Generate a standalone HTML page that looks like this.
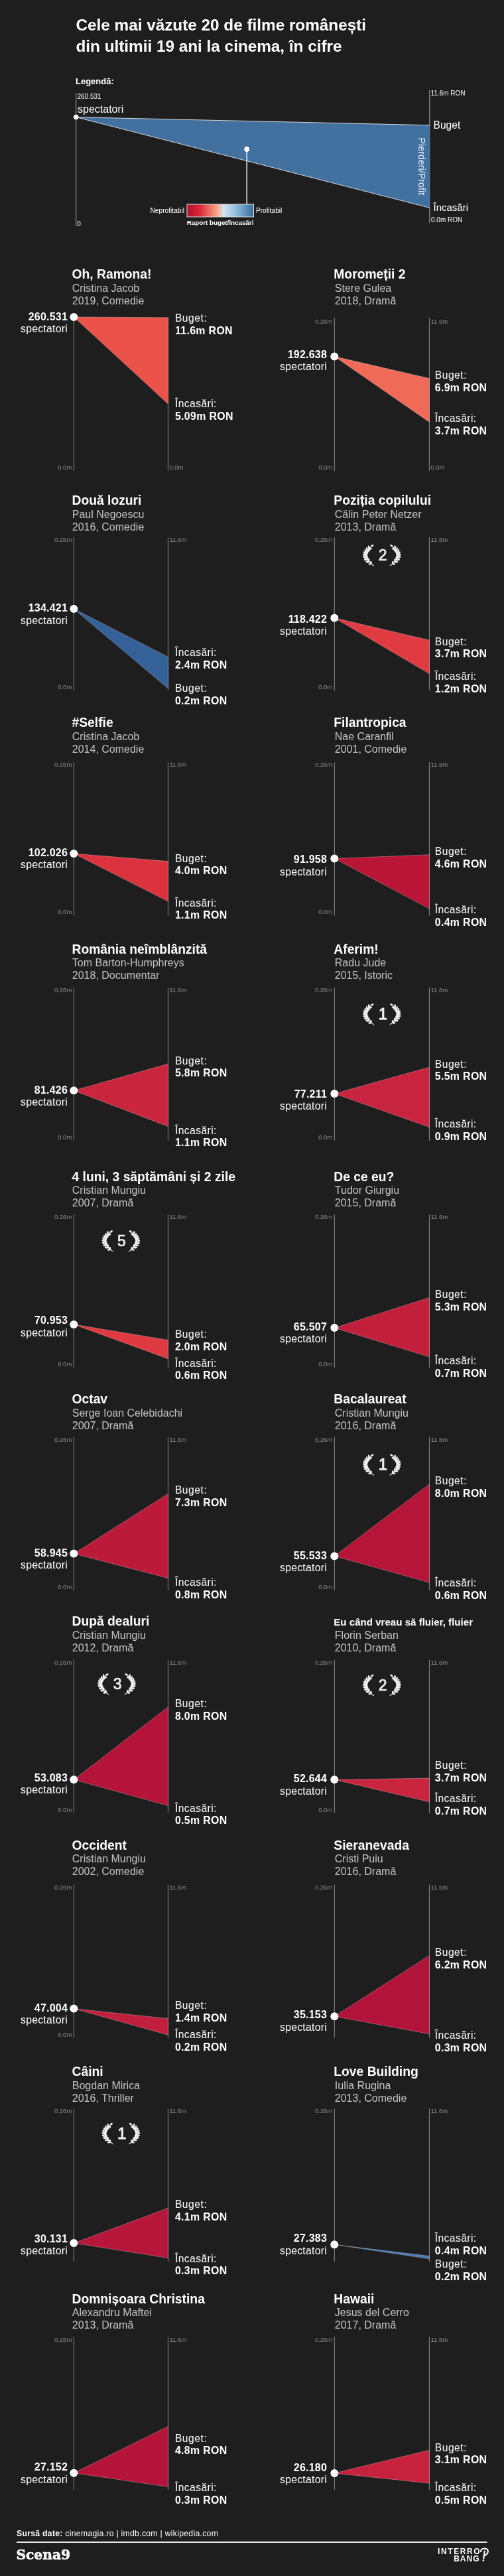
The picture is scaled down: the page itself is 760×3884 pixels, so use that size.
<!DOCTYPE html>
<html><head><meta charset="utf-8"><title>Cele mai văzute 20 de filme românești</title>
<style>
html,body{margin:0;padding:0;background:#1e1e1e;}
body{width:760px;height:3884px;overflow:hidden;}
svg{display:block;font-family:'Liberation Sans', Arial, sans-serif;will-change:transform;}
</style></head><body>
<svg width="760" height="3884" viewBox="0 0 760 3884">
<rect width="760" height="3884" fill="#1e1e1e"/>
<text x="114.5" y="46" font-size="24.3" font-weight="bold" fill="#fff">Cele mai văzute 20 de filme românești</text>
<text x="114.5" y="78.2" font-size="24.3" font-weight="bold" fill="#fff">din ultimii 19 ani la cinema, în cifre</text>
<text x="114" y="127.2" font-size="13" font-weight="bold" fill="#fff">Legendă:</text>
<line x1="114.7" y1="141" x2="114.7" y2="341" stroke="#aaa" stroke-width="1"/>
<line x1="647.8" y1="136" x2="647.8" y2="336" stroke="#aaa" stroke-width="1"/>
<text x="116.5" y="149" font-size="10" fill="#fff">260.531</text>
<text x="117" y="169.5" font-size="16" fill="#fff">spectatori</text>
<text x="116.3" y="340.9" font-size="10" fill="#fff">0</text>
<text x="649.5" y="143.8" font-size="10" fill="#fff">11.6m RON</text>
<text x="650" y="335" font-size="10" fill="#fff">0.0m RON</text>
<text x="653.5" y="193.8" font-size="15.6" fill="#fff">Buget</text>
<text x="653.5" y="318" font-size="15" fill="#fff">Încasări</text>
<polygon points="114.7,176.6 647.8,188.8 647.8,313.3" fill="#42709f"/>
<line x1="114.7" y1="176.6" x2="647.8" y2="188.8" stroke="#e8e8e8" stroke-width="0.9"/>
<line x1="114.7" y1="176.6" x2="647.8" y2="313.3" stroke="#e8e8e8" stroke-width="0.9"/>
<circle cx="114.7" cy="176.6" r="3.8" fill="#fff"/>
<text transform="translate(631.3,207.5) rotate(90)" font-size="14.3" fill="#e6ecf4">Pierderi/Profit</text>
<line x1="372.2" y1="225" x2="372.2" y2="308" stroke="#fff" stroke-width="1.4"/>
<circle cx="372.2" cy="225" r="3.9" fill="#fff"/>
<defs><linearGradient id="cb" x1="0" x2="1" y1="0" y2="0">
<stop offset="0" stop-color="#b0112e"/>
<stop offset="0.2" stop-color="#dc2a3a"/>
<stop offset="0.45" stop-color="#f5a586"/>
<stop offset="0.55" stop-color="#d6e6f2"/>
<stop offset="0.75" stop-color="#8ab8da"/>
<stop offset="1" stop-color="#3a6a9f"/>
</linearGradient></defs>
<rect x="282" y="308" width="100.5" height="19" fill="url(#cb)" stroke="#ddd" stroke-width="1"/>
<text x="278" y="321.4" font-size="10.2" text-anchor="end" fill="#fff">Neprofitabil</text>
<text x="386" y="321.4" font-size="10.1" fill="#fff">Profitabil</text>
<text x="332" y="339" font-size="9.8" font-weight="bold" text-anchor="middle" fill="#fff">Raport buget/încasări</text>
<text x="108.5" y="420.4" font-size="19.3" font-weight="bold" fill="#fff">Oh, Ramona!</text>
<text x="108.8" y="439.8" font-size="16" fill="#c4c4c4">Cristina Jacob</text>
<text x="108.8" y="458.8" font-size="16" fill="#c4c4c4">2019, Comedie</text>
<line x1="111.3" y1="479" x2="111.3" y2="710.0" stroke="#8a8a8a" stroke-width="1"/>
<line x1="253.4" y1="479" x2="253.4" y2="710.0" stroke="#8a8a8a" stroke-width="1"/>
<text x="108.3" y="708.0" font-size="9.5" text-anchor="end" fill="#8c8c8c">0.0m</text>
<text x="255.4" y="708.0" font-size="9.5" fill="#8c8c8c">0.0m</text>
<polygon points="111.3,477.9 253.4,478.8 253.4,609.0" fill="#eb524a" stroke="rgba(255,255,255,0.4)" stroke-width="0.7" stroke-linejoin="bevel"/>
<circle cx="111.3" cy="477.9" r="6" fill="#fff"/>
<text x="102.0" y="482.6" font-size="16" font-weight="bold" text-anchor="end" letter-spacing="0.2" fill="#fff">260.531</text>
<text x="102.0" y="501.2" font-size="15.8" text-anchor="end" letter-spacing="0.25" fill="#fff">spectatori</text>
<text x="263.9" y="485.0" font-size="15.7" letter-spacing="0.5" fill="#fff">Buget:</text>
<text x="263.9" y="503.7" font-size="15.9" font-weight="bold" letter-spacing="0.35" fill="#fff">11.6m RON</text>
<text x="263.9" y="614.2" font-size="15.7" letter-spacing="0.4" fill="#fff">Încasări:</text>
<text x="263.9" y="632.9" font-size="15.9" font-weight="bold" letter-spacing="0.35" fill="#fff">5.09m RON</text>
<text x="503.3" y="420.4" font-size="19.3" font-weight="bold" fill="#fff">Moromeții 2</text>
<text x="504.8" y="439.8" font-size="16" fill="#c4c4c4">Stere Gulea</text>
<text x="504.8" y="458.8" font-size="16" fill="#c4c4c4">2018, Dramă</text>
<line x1="504.3" y1="479" x2="504.3" y2="710.0" stroke="#8a8a8a" stroke-width="1"/>
<line x1="647.4" y1="479" x2="647.4" y2="710.0" stroke="#8a8a8a" stroke-width="1"/>
<text x="501.3" y="488.4" font-size="9.5" text-anchor="end" fill="#8c8c8c">0.26m</text>
<text x="649.4" y="488.4" font-size="9.5" fill="#8c8c8c">11.6m</text>
<text x="501.3" y="708.0" font-size="9.5" text-anchor="end" fill="#8c8c8c">0.0m</text>
<text x="649.4" y="708.0" font-size="9.5" fill="#8c8c8c">0.0m</text>
<polygon points="504.3,537.5 647.4,570.6 647.4,636.4" fill="#f06a58" stroke="rgba(255,255,255,0.4)" stroke-width="0.7" stroke-linejoin="bevel"/>
<circle cx="504.3" cy="537.5" r="6" fill="#fff"/>
<text x="493.0" y="539.6" font-size="16" font-weight="bold" text-anchor="end" letter-spacing="0.2" fill="#fff">192.638</text>
<text x="493.0" y="558.2" font-size="15.8" text-anchor="end" letter-spacing="0.25" fill="#fff">spectatori</text>
<text x="655.7" y="571.2" font-size="15.7" letter-spacing="0.5" fill="#fff">Buget:</text>
<text x="655.7" y="589.9" font-size="15.9" font-weight="bold" letter-spacing="0.35" fill="#fff">6.9m RON</text>
<text x="655.7" y="636.4" font-size="15.7" letter-spacing="0.4" fill="#fff">Încasări:</text>
<text x="655.7" y="655.1" font-size="15.9" font-weight="bold" letter-spacing="0.35" fill="#fff">3.7m RON</text>
<text x="108.5" y="761.3" font-size="19.3" font-weight="bold" fill="#fff">Două lozuri</text>
<text x="108.8" y="780.7" font-size="16" fill="#c4c4c4">Paul Negoescu</text>
<text x="108.8" y="799.7" font-size="16" fill="#c4c4c4">2016, Comedie</text>
<line x1="111.3" y1="810" x2="111.3" y2="1041.0" stroke="#8a8a8a" stroke-width="1"/>
<line x1="253.4" y1="810" x2="253.4" y2="1041.0" stroke="#8a8a8a" stroke-width="1"/>
<text x="108.3" y="817.0" font-size="9.5" text-anchor="end" fill="#8c8c8c">0.26m</text>
<text x="255.4" y="817.0" font-size="9.5" fill="#8c8c8c">11.6m</text>
<text x="108.3" y="1039.0" font-size="9.5" text-anchor="end" fill="#8c8c8c">0.0m</text>
<polygon points="111.3,918.0 253.4,1038.0 253.4,990.4" fill="#346298" stroke="rgba(255,255,255,0.4)" stroke-width="0.7" stroke-linejoin="bevel"/>
<circle cx="111.3" cy="918.0" r="6" fill="#fff"/>
<text x="102.0" y="922.3" font-size="16" font-weight="bold" text-anchor="end" letter-spacing="0.2" fill="#fff">134.421</text>
<text x="102.0" y="940.9" font-size="15.8" text-anchor="end" letter-spacing="0.25" fill="#fff">spectatori</text>
<text x="263.9" y="1043.0" font-size="15.7" letter-spacing="0.5" fill="#fff">Buget:</text>
<text x="263.9" y="1061.7" font-size="15.9" font-weight="bold" letter-spacing="0.35" fill="#fff">0.2m RON</text>
<text x="263.9" y="989.1" font-size="15.7" letter-spacing="0.4" fill="#fff">Încasări:</text>
<text x="263.9" y="1007.8" font-size="15.9" font-weight="bold" letter-spacing="0.35" fill="#fff">2.4m RON</text>
<text x="503.3" y="761.3" font-size="19.3" font-weight="bold" fill="#fff">Poziția copilului</text>
<text x="504.8" y="780.7" font-size="16" fill="#c4c4c4">Călin Peter Netzer</text>
<text x="504.8" y="799.7" font-size="16" fill="#c4c4c4">2013, Dramă</text>
<line x1="504.3" y1="810" x2="504.3" y2="1041.0" stroke="#8a8a8a" stroke-width="1"/>
<line x1="647.4" y1="810" x2="647.4" y2="1041.0" stroke="#8a8a8a" stroke-width="1"/>
<text x="501.3" y="817.0" font-size="9.5" text-anchor="end" fill="#8c8c8c">0.26m</text>
<text x="649.4" y="817.0" font-size="9.5" fill="#8c8c8c">11.6m</text>
<text x="501.3" y="1039.0" font-size="9.5" text-anchor="end" fill="#8c8c8c">0.0m</text>
<polygon points="504.3,931.7 647.4,965.2 647.4,1015.8" fill="#e03b43" stroke="rgba(255,255,255,0.4)" stroke-width="0.7" stroke-linejoin="bevel"/>
<circle cx="504.3" cy="931.7" r="6" fill="#fff"/>
<text x="493.0" y="938.6" font-size="16" font-weight="bold" text-anchor="end" letter-spacing="0.2" fill="#fff">118.422</text>
<text x="493.0" y="957.2" font-size="15.8" text-anchor="end" letter-spacing="0.25" fill="#fff">spectatori</text>
<text x="655.7" y="972.7" font-size="15.7" letter-spacing="0.5" fill="#fff">Buget:</text>
<text x="655.7" y="991.4" font-size="15.9" font-weight="bold" letter-spacing="0.35" fill="#fff">3.7m RON</text>
<text x="655.7" y="1024.8" font-size="15.7" letter-spacing="0.4" fill="#fff">Încasări:</text>
<text x="655.7" y="1043.5" font-size="15.9" font-weight="bold" letter-spacing="0.35" fill="#fff">1.2m RON</text>
<path d="M562.85,852.40 Q540.85,837.90 560.05,823.90" fill="none" stroke="#f2f2f2" stroke-width="1.2"/>
<line x1="562.85" y1="852.40" x2="564.05" y2="853.40" stroke="#f2f2f2" stroke-width="1.1"/>
<ellipse cx="557.67" cy="850.49" rx="2.30" ry="1.35" transform="rotate(-182.9 557.67 850.49)" fill="#f2f2f2"/>
<ellipse cx="559.46" cy="848.13" rx="2.30" ry="1.35" transform="rotate(-102.9 559.46 848.13)" fill="#f2f2f2"/>
<ellipse cx="553.87" cy="847.30" rx="2.70" ry="1.35" transform="rotate(-176.1 553.87 847.30)" fill="#f2f2f2"/>
<ellipse cx="556.27" cy="844.80" rx="2.70" ry="1.35" transform="rotate(-96.1 556.27 844.80)" fill="#f2f2f2"/>
<ellipse cx="551.34" cy="844.01" rx="2.70" ry="1.35" transform="rotate(-167.1 551.34 844.01)" fill="#f2f2f2"/>
<ellipse cx="554.11" cy="841.91" rx="2.70" ry="1.35" transform="rotate(-87.1 554.11 841.91)" fill="#f2f2f2"/>
<ellipse cx="549.76" cy="840.61" rx="2.70" ry="1.35" transform="rotate(-155.3 549.76 840.61)" fill="#f2f2f2"/>
<ellipse cx="552.90" cy="839.13" rx="2.70" ry="1.35" transform="rotate(-75.3 552.90 839.13)" fill="#f2f2f2"/>
<ellipse cx="549.19" cy="837.16" rx="2.70" ry="1.35" transform="rotate(-140.5 549.19 837.16)" fill="#f2f2f2"/>
<ellipse cx="552.60" cy="836.53" rx="2.70" ry="1.35" transform="rotate(-60.5 552.60 836.53)" fill="#f2f2f2"/>
<ellipse cx="549.64" cy="833.80" rx="2.70" ry="1.35" transform="rotate(-124.0 549.64 833.80)" fill="#f2f2f2"/>
<ellipse cx="553.10" cy="834.16" rx="2.70" ry="1.35" transform="rotate(-44.0 553.10 834.16)" fill="#f2f2f2"/>
<ellipse cx="551.01" cy="830.63" rx="2.70" ry="1.35" transform="rotate(-108.4 551.01 830.63)" fill="#f2f2f2"/>
<ellipse cx="554.24" cy="831.91" rx="2.70" ry="1.35" transform="rotate(-28.4 554.24 831.91)" fill="#f2f2f2"/>
<ellipse cx="553.14" cy="827.68" rx="2.70" ry="1.35" transform="rotate(-95.4 553.14 827.68)" fill="#f2f2f2"/>
<ellipse cx="556.00" cy="829.65" rx="2.70" ry="1.35" transform="rotate(-15.4 556.00 829.65)" fill="#f2f2f2"/>
<ellipse cx="555.97" cy="824.86" rx="2.70" ry="1.35" transform="rotate(-85.5 555.97 824.86)" fill="#f2f2f2"/>
<ellipse cx="558.44" cy="827.29" rx="2.70" ry="1.35" transform="rotate(-5.5 558.44 827.29)" fill="#f2f2f2"/>
<ellipse cx="561.34" cy="822.96" rx="2.4" ry="1.4" transform="rotate(-36.1 561.34 822.96)" fill="#f2f2f2"/>
<path d="M588.85,852.40 Q610.85,837.90 591.65,823.90" fill="none" stroke="#f2f2f2" stroke-width="1.2"/>
<line x1="588.85" y1="852.40" x2="587.65" y2="853.40" stroke="#f2f2f2" stroke-width="1.1"/>
<ellipse cx="592.24" cy="848.13" rx="2.30" ry="1.35" transform="rotate(-77.1 592.24 848.13)" fill="#f2f2f2"/>
<ellipse cx="594.03" cy="850.49" rx="2.30" ry="1.35" transform="rotate(2.9 594.03 850.49)" fill="#f2f2f2"/>
<ellipse cx="595.43" cy="844.80" rx="2.70" ry="1.35" transform="rotate(-83.9 595.43 844.80)" fill="#f2f2f2"/>
<ellipse cx="597.83" cy="847.30" rx="2.70" ry="1.35" transform="rotate(-3.9 597.83 847.30)" fill="#f2f2f2"/>
<ellipse cx="597.59" cy="841.91" rx="2.70" ry="1.35" transform="rotate(-92.9 597.59 841.91)" fill="#f2f2f2"/>
<ellipse cx="600.36" cy="844.01" rx="2.70" ry="1.35" transform="rotate(-12.9 600.36 844.01)" fill="#f2f2f2"/>
<ellipse cx="598.80" cy="839.13" rx="2.70" ry="1.35" transform="rotate(-104.7 598.80 839.13)" fill="#f2f2f2"/>
<ellipse cx="601.94" cy="840.61" rx="2.70" ry="1.35" transform="rotate(-24.7 601.94 840.61)" fill="#f2f2f2"/>
<ellipse cx="599.10" cy="836.53" rx="2.70" ry="1.35" transform="rotate(-119.5 599.10 836.53)" fill="#f2f2f2"/>
<ellipse cx="602.51" cy="837.16" rx="2.70" ry="1.35" transform="rotate(-39.5 602.51 837.16)" fill="#f2f2f2"/>
<ellipse cx="598.60" cy="834.16" rx="2.70" ry="1.35" transform="rotate(-136.0 598.60 834.16)" fill="#f2f2f2"/>
<ellipse cx="602.06" cy="833.80" rx="2.70" ry="1.35" transform="rotate(-56.0 602.06 833.80)" fill="#f2f2f2"/>
<ellipse cx="597.46" cy="831.91" rx="2.70" ry="1.35" transform="rotate(-151.6 597.46 831.91)" fill="#f2f2f2"/>
<ellipse cx="600.69" cy="830.63" rx="2.70" ry="1.35" transform="rotate(-71.6 600.69 830.63)" fill="#f2f2f2"/>
<ellipse cx="595.70" cy="829.65" rx="2.70" ry="1.35" transform="rotate(-164.6 595.70 829.65)" fill="#f2f2f2"/>
<ellipse cx="598.56" cy="827.68" rx="2.70" ry="1.35" transform="rotate(-84.6 598.56 827.68)" fill="#f2f2f2"/>
<ellipse cx="593.26" cy="827.29" rx="2.70" ry="1.35" transform="rotate(-174.5 593.26 827.29)" fill="#f2f2f2"/>
<ellipse cx="595.73" cy="824.86" rx="2.70" ry="1.35" transform="rotate(-94.5 595.73 824.86)" fill="#f2f2f2"/>
<ellipse cx="590.36" cy="822.96" rx="2.4" ry="1.4" transform="rotate(-143.9 590.36 822.96)" fill="#f2f2f2"/>
<text x="577.1" y="845.1" text-anchor="middle" font-size="23" stroke="#f2f2f2" stroke-width="0.7" fill="#f2f2f2">2</text>
<text x="108.5" y="1096.3" font-size="19.3" font-weight="bold" fill="#fff">#Selfie</text>
<text x="108.8" y="1115.7" font-size="16" fill="#c4c4c4">Cristina Jacob</text>
<text x="108.8" y="1134.7" font-size="16" fill="#c4c4c4">2014, Comedie</text>
<line x1="111.3" y1="1149.4" x2="111.3" y2="1380.4" stroke="#8a8a8a" stroke-width="1"/>
<line x1="253.4" y1="1149.4" x2="253.4" y2="1380.4" stroke="#8a8a8a" stroke-width="1"/>
<text x="108.3" y="1156.4" font-size="9.5" text-anchor="end" fill="#8c8c8c">0.26m</text>
<text x="255.4" y="1156.4" font-size="9.5" fill="#8c8c8c">11.6m</text>
<text x="108.3" y="1378.4" font-size="9.5" text-anchor="end" fill="#8c8c8c">0.0m</text>
<polygon points="111.3,1287.0 253.4,1298.6 253.4,1359.0" fill="#da333f" stroke="rgba(255,255,255,0.4)" stroke-width="0.7" stroke-linejoin="bevel"/>
<circle cx="111.3" cy="1287.0" r="6" fill="#fff"/>
<text x="102.0" y="1290.5" font-size="16" font-weight="bold" text-anchor="end" letter-spacing="0.2" fill="#fff">102.026</text>
<text x="102.0" y="1309.1" font-size="15.8" text-anchor="end" letter-spacing="0.25" fill="#fff">spectatori</text>
<text x="263.9" y="1299.5" font-size="15.7" letter-spacing="0.5" fill="#fff">Buget:</text>
<text x="263.9" y="1318.2" font-size="15.9" font-weight="bold" letter-spacing="0.35" fill="#fff">4.0m RON</text>
<text x="263.9" y="1366.5" font-size="15.7" letter-spacing="0.4" fill="#fff">Încasări:</text>
<text x="263.9" y="1385.2" font-size="15.9" font-weight="bold" letter-spacing="0.35" fill="#fff">1.1m RON</text>
<text x="503.3" y="1096.3" font-size="19.3" font-weight="bold" fill="#fff">Filantropica</text>
<text x="504.8" y="1115.7" font-size="16" fill="#c4c4c4">Nae Caranfil</text>
<text x="504.8" y="1134.7" font-size="16" fill="#c4c4c4">2001, Comedie</text>
<line x1="504.3" y1="1149.4" x2="504.3" y2="1380.4" stroke="#8a8a8a" stroke-width="1"/>
<line x1="647.4" y1="1149.4" x2="647.4" y2="1380.4" stroke="#8a8a8a" stroke-width="1"/>
<text x="501.3" y="1156.4" font-size="9.5" text-anchor="end" fill="#8c8c8c">0.26m</text>
<text x="649.4" y="1156.4" font-size="9.5" fill="#8c8c8c">11.6m</text>
<text x="501.3" y="1378.4" font-size="9.5" text-anchor="end" fill="#8c8c8c">0.0m</text>
<polygon points="504.3,1294.5 647.4,1288.7 647.4,1370.0" fill="#b81537" stroke="rgba(255,255,255,0.4)" stroke-width="0.7" stroke-linejoin="bevel"/>
<circle cx="504.3" cy="1294.5" r="6" fill="#fff"/>
<text x="493.0" y="1301.0" font-size="16" font-weight="bold" text-anchor="end" letter-spacing="0.2" fill="#fff">91.958</text>
<text x="493.0" y="1319.6" font-size="15.8" text-anchor="end" letter-spacing="0.25" fill="#fff">spectatori</text>
<text x="655.7" y="1289.3" font-size="15.7" letter-spacing="0.5" fill="#fff">Buget:</text>
<text x="655.7" y="1308.0" font-size="15.9" font-weight="bold" letter-spacing="0.35" fill="#fff">4.6m RON</text>
<text x="655.7" y="1377.4" font-size="15.7" letter-spacing="0.4" fill="#fff">Încasări:</text>
<text x="655.7" y="1396.1" font-size="15.9" font-weight="bold" letter-spacing="0.35" fill="#fff">0.4m RON</text>
<text x="108.5" y="1437.5" font-size="19.3" font-weight="bold" fill="#fff">România neîmblânzită</text>
<text x="108.8" y="1456.9" font-size="16" fill="#c4c4c4">Tom Barton-Humphreys</text>
<text x="108.8" y="1475.9" font-size="16" fill="#c4c4c4">2018, Documentar</text>
<line x1="111.3" y1="1488.8" x2="111.3" y2="1719.8" stroke="#8a8a8a" stroke-width="1"/>
<line x1="253.4" y1="1488.8" x2="253.4" y2="1719.8" stroke="#8a8a8a" stroke-width="1"/>
<text x="108.3" y="1495.8" font-size="9.5" text-anchor="end" fill="#8c8c8c">0.26m</text>
<text x="255.4" y="1495.8" font-size="9.5" fill="#8c8c8c">11.6m</text>
<text x="108.3" y="1717.8" font-size="9.5" text-anchor="end" fill="#8c8c8c">0.0m</text>
<polygon points="111.3,1644.3 253.4,1604.0 253.4,1698.4" fill="#ca253e" stroke="rgba(255,255,255,0.4)" stroke-width="0.7" stroke-linejoin="bevel"/>
<circle cx="111.3" cy="1644.3" r="6" fill="#fff"/>
<text x="102.0" y="1648.6" font-size="16" font-weight="bold" text-anchor="end" letter-spacing="0.2" fill="#fff">81.426</text>
<text x="102.0" y="1667.2" font-size="15.8" text-anchor="end" letter-spacing="0.25" fill="#fff">spectatori</text>
<text x="263.9" y="1604.6" font-size="15.7" letter-spacing="0.5" fill="#fff">Buget:</text>
<text x="263.9" y="1623.3" font-size="15.9" font-weight="bold" letter-spacing="0.35" fill="#fff">5.8m RON</text>
<text x="263.9" y="1709.7" font-size="15.7" letter-spacing="0.4" fill="#fff">Încasări:</text>
<text x="263.9" y="1728.4" font-size="15.9" font-weight="bold" letter-spacing="0.35" fill="#fff">1.1m RON</text>
<text x="503.3" y="1437.5" font-size="19.3" font-weight="bold" fill="#fff">Aferim!</text>
<text x="504.8" y="1456.9" font-size="16" fill="#c4c4c4">Radu Jude</text>
<text x="504.8" y="1475.9" font-size="16" fill="#c4c4c4">2015, Istoric</text>
<line x1="504.3" y1="1488.8" x2="504.3" y2="1719.8" stroke="#8a8a8a" stroke-width="1"/>
<line x1="647.4" y1="1488.8" x2="647.4" y2="1719.8" stroke="#8a8a8a" stroke-width="1"/>
<text x="501.3" y="1495.8" font-size="9.5" text-anchor="end" fill="#8c8c8c">0.26m</text>
<text x="649.4" y="1495.8" font-size="9.5" fill="#8c8c8c">11.6m</text>
<text x="501.3" y="1717.8" font-size="9.5" text-anchor="end" fill="#8c8c8c">0.0m</text>
<polygon points="504.3,1649.0 647.4,1609.1 647.4,1699.5" fill="#c9243f" stroke="rgba(255,255,255,0.4)" stroke-width="0.7" stroke-linejoin="bevel"/>
<circle cx="504.3" cy="1649.0" r="6" fill="#fff"/>
<text x="493.0" y="1654.5" font-size="16" font-weight="bold" text-anchor="end" letter-spacing="0.2" fill="#fff">77.211</text>
<text x="493.0" y="1673.1" font-size="15.8" text-anchor="end" letter-spacing="0.25" fill="#fff">spectatori</text>
<text x="655.7" y="1609.7" font-size="15.7" letter-spacing="0.5" fill="#fff">Buget:</text>
<text x="655.7" y="1628.4" font-size="15.9" font-weight="bold" letter-spacing="0.35" fill="#fff">5.5m RON</text>
<text x="655.7" y="1699.9" font-size="15.7" letter-spacing="0.4" fill="#fff">Încasări:</text>
<text x="655.7" y="1718.6" font-size="15.9" font-weight="bold" letter-spacing="0.35" fill="#fff">0.9m RON</text>
<path d="M562.85,1544.30 Q540.85,1529.80 560.05,1515.80" fill="none" stroke="#f2f2f2" stroke-width="1.2"/>
<line x1="562.85" y1="1544.30" x2="564.05" y2="1545.30" stroke="#f2f2f2" stroke-width="1.1"/>
<ellipse cx="557.67" cy="1542.39" rx="2.30" ry="1.35" transform="rotate(-182.9 557.67 1542.39)" fill="#f2f2f2"/>
<ellipse cx="559.46" cy="1540.03" rx="2.30" ry="1.35" transform="rotate(-102.9 559.46 1540.03)" fill="#f2f2f2"/>
<ellipse cx="553.87" cy="1539.20" rx="2.70" ry="1.35" transform="rotate(-176.1 553.87 1539.20)" fill="#f2f2f2"/>
<ellipse cx="556.27" cy="1536.70" rx="2.70" ry="1.35" transform="rotate(-96.1 556.27 1536.70)" fill="#f2f2f2"/>
<ellipse cx="551.34" cy="1535.91" rx="2.70" ry="1.35" transform="rotate(-167.1 551.34 1535.91)" fill="#f2f2f2"/>
<ellipse cx="554.11" cy="1533.81" rx="2.70" ry="1.35" transform="rotate(-87.1 554.11 1533.81)" fill="#f2f2f2"/>
<ellipse cx="549.76" cy="1532.51" rx="2.70" ry="1.35" transform="rotate(-155.3 549.76 1532.51)" fill="#f2f2f2"/>
<ellipse cx="552.90" cy="1531.03" rx="2.70" ry="1.35" transform="rotate(-75.3 552.90 1531.03)" fill="#f2f2f2"/>
<ellipse cx="549.19" cy="1529.06" rx="2.70" ry="1.35" transform="rotate(-140.5 549.19 1529.06)" fill="#f2f2f2"/>
<ellipse cx="552.60" cy="1528.43" rx="2.70" ry="1.35" transform="rotate(-60.5 552.60 1528.43)" fill="#f2f2f2"/>
<ellipse cx="549.64" cy="1525.70" rx="2.70" ry="1.35" transform="rotate(-124.0 549.64 1525.70)" fill="#f2f2f2"/>
<ellipse cx="553.10" cy="1526.06" rx="2.70" ry="1.35" transform="rotate(-44.0 553.10 1526.06)" fill="#f2f2f2"/>
<ellipse cx="551.01" cy="1522.53" rx="2.70" ry="1.35" transform="rotate(-108.4 551.01 1522.53)" fill="#f2f2f2"/>
<ellipse cx="554.24" cy="1523.81" rx="2.70" ry="1.35" transform="rotate(-28.4 554.24 1523.81)" fill="#f2f2f2"/>
<ellipse cx="553.14" cy="1519.58" rx="2.70" ry="1.35" transform="rotate(-95.4 553.14 1519.58)" fill="#f2f2f2"/>
<ellipse cx="556.00" cy="1521.55" rx="2.70" ry="1.35" transform="rotate(-15.4 556.00 1521.55)" fill="#f2f2f2"/>
<ellipse cx="555.97" cy="1516.76" rx="2.70" ry="1.35" transform="rotate(-85.5 555.97 1516.76)" fill="#f2f2f2"/>
<ellipse cx="558.44" cy="1519.19" rx="2.70" ry="1.35" transform="rotate(-5.5 558.44 1519.19)" fill="#f2f2f2"/>
<ellipse cx="561.34" cy="1514.86" rx="2.4" ry="1.4" transform="rotate(-36.1 561.34 1514.86)" fill="#f2f2f2"/>
<path d="M588.85,1544.30 Q610.85,1529.80 591.65,1515.80" fill="none" stroke="#f2f2f2" stroke-width="1.2"/>
<line x1="588.85" y1="1544.30" x2="587.65" y2="1545.30" stroke="#f2f2f2" stroke-width="1.1"/>
<ellipse cx="592.24" cy="1540.03" rx="2.30" ry="1.35" transform="rotate(-77.1 592.24 1540.03)" fill="#f2f2f2"/>
<ellipse cx="594.03" cy="1542.39" rx="2.30" ry="1.35" transform="rotate(2.9 594.03 1542.39)" fill="#f2f2f2"/>
<ellipse cx="595.43" cy="1536.70" rx="2.70" ry="1.35" transform="rotate(-83.9 595.43 1536.70)" fill="#f2f2f2"/>
<ellipse cx="597.83" cy="1539.20" rx="2.70" ry="1.35" transform="rotate(-3.9 597.83 1539.20)" fill="#f2f2f2"/>
<ellipse cx="597.59" cy="1533.81" rx="2.70" ry="1.35" transform="rotate(-92.9 597.59 1533.81)" fill="#f2f2f2"/>
<ellipse cx="600.36" cy="1535.91" rx="2.70" ry="1.35" transform="rotate(-12.9 600.36 1535.91)" fill="#f2f2f2"/>
<ellipse cx="598.80" cy="1531.03" rx="2.70" ry="1.35" transform="rotate(-104.7 598.80 1531.03)" fill="#f2f2f2"/>
<ellipse cx="601.94" cy="1532.51" rx="2.70" ry="1.35" transform="rotate(-24.7 601.94 1532.51)" fill="#f2f2f2"/>
<ellipse cx="599.10" cy="1528.43" rx="2.70" ry="1.35" transform="rotate(-119.5 599.10 1528.43)" fill="#f2f2f2"/>
<ellipse cx="602.51" cy="1529.06" rx="2.70" ry="1.35" transform="rotate(-39.5 602.51 1529.06)" fill="#f2f2f2"/>
<ellipse cx="598.60" cy="1526.06" rx="2.70" ry="1.35" transform="rotate(-136.0 598.60 1526.06)" fill="#f2f2f2"/>
<ellipse cx="602.06" cy="1525.70" rx="2.70" ry="1.35" transform="rotate(-56.0 602.06 1525.70)" fill="#f2f2f2"/>
<ellipse cx="597.46" cy="1523.81" rx="2.70" ry="1.35" transform="rotate(-151.6 597.46 1523.81)" fill="#f2f2f2"/>
<ellipse cx="600.69" cy="1522.53" rx="2.70" ry="1.35" transform="rotate(-71.6 600.69 1522.53)" fill="#f2f2f2"/>
<ellipse cx="595.70" cy="1521.55" rx="2.70" ry="1.35" transform="rotate(-164.6 595.70 1521.55)" fill="#f2f2f2"/>
<ellipse cx="598.56" cy="1519.58" rx="2.70" ry="1.35" transform="rotate(-84.6 598.56 1519.58)" fill="#f2f2f2"/>
<ellipse cx="593.26" cy="1519.19" rx="2.70" ry="1.35" transform="rotate(-174.5 593.26 1519.19)" fill="#f2f2f2"/>
<ellipse cx="595.73" cy="1516.76" rx="2.70" ry="1.35" transform="rotate(-94.5 595.73 1516.76)" fill="#f2f2f2"/>
<ellipse cx="590.36" cy="1514.86" rx="2.4" ry="1.4" transform="rotate(-143.9 590.36 1514.86)" fill="#f2f2f2"/>
<text x="577.5" y="1537.0" text-anchor="middle" font-size="23" stroke="#f2f2f2" stroke-width="1.0" fill="#f2f2f2">1</text>
<rect x="571.9" y="1535.0" width="11.0" height="2.2" fill="#f2f2f2"/>
<text x="108.5" y="1780.8" font-size="19.3" font-weight="bold" fill="#fff">4 luni, 3 săptămâni și 2 zile</text>
<text x="108.8" y="1800.2" font-size="16" fill="#c4c4c4">Cristian Mungiu</text>
<text x="108.8" y="1819.2" font-size="16" fill="#c4c4c4">2007, Dramă</text>
<line x1="111.3" y1="1831" x2="111.3" y2="2062.0" stroke="#8a8a8a" stroke-width="1"/>
<line x1="253.4" y1="1831" x2="253.4" y2="2062.0" stroke="#8a8a8a" stroke-width="1"/>
<text x="108.3" y="1838.0" font-size="9.5" text-anchor="end" fill="#8c8c8c">0.26m</text>
<text x="255.4" y="1838.0" font-size="9.5" fill="#8c8c8c">11.6m</text>
<text x="108.3" y="2060.0" font-size="9.5" text-anchor="end" fill="#8c8c8c">0.0m</text>
<polygon points="111.3,1996.9 253.4,2020.4 253.4,2048.7" fill="#df3a41" stroke="rgba(255,255,255,0.4)" stroke-width="0.7" stroke-linejoin="bevel"/>
<circle cx="111.3" cy="1996.9" r="6" fill="#fff"/>
<text x="102.0" y="1996.2" font-size="16" font-weight="bold" text-anchor="end" letter-spacing="0.2" fill="#fff">70.953</text>
<text x="102.0" y="2014.8" font-size="15.8" text-anchor="end" letter-spacing="0.25" fill="#fff">spectatori</text>
<text x="263.9" y="2017.4" font-size="15.7" letter-spacing="0.5" fill="#fff">Buget:</text>
<text x="263.9" y="2036.1" font-size="15.9" font-weight="bold" letter-spacing="0.35" fill="#fff">2.0m RON</text>
<text x="263.9" y="2060.6" font-size="15.7" letter-spacing="0.4" fill="#fff">Încasări:</text>
<text x="263.9" y="2079.3" font-size="15.9" font-weight="bold" letter-spacing="0.35" fill="#fff">0.6m RON</text>
<path d="M169.35,1886.30 Q147.35,1871.80 166.55,1857.80" fill="none" stroke="#f2f2f2" stroke-width="1.2"/>
<line x1="169.35" y1="1886.30" x2="170.55" y2="1887.30" stroke="#f2f2f2" stroke-width="1.1"/>
<ellipse cx="164.17" cy="1884.39" rx="2.30" ry="1.35" transform="rotate(-182.9 164.17 1884.39)" fill="#f2f2f2"/>
<ellipse cx="165.96" cy="1882.03" rx="2.30" ry="1.35" transform="rotate(-102.9 165.96 1882.03)" fill="#f2f2f2"/>
<ellipse cx="160.37" cy="1881.20" rx="2.70" ry="1.35" transform="rotate(-176.1 160.37 1881.20)" fill="#f2f2f2"/>
<ellipse cx="162.77" cy="1878.70" rx="2.70" ry="1.35" transform="rotate(-96.1 162.77 1878.70)" fill="#f2f2f2"/>
<ellipse cx="157.84" cy="1877.91" rx="2.70" ry="1.35" transform="rotate(-167.1 157.84 1877.91)" fill="#f2f2f2"/>
<ellipse cx="160.61" cy="1875.81" rx="2.70" ry="1.35" transform="rotate(-87.1 160.61 1875.81)" fill="#f2f2f2"/>
<ellipse cx="156.26" cy="1874.51" rx="2.70" ry="1.35" transform="rotate(-155.3 156.26 1874.51)" fill="#f2f2f2"/>
<ellipse cx="159.40" cy="1873.03" rx="2.70" ry="1.35" transform="rotate(-75.3 159.40 1873.03)" fill="#f2f2f2"/>
<ellipse cx="155.69" cy="1871.06" rx="2.70" ry="1.35" transform="rotate(-140.5 155.69 1871.06)" fill="#f2f2f2"/>
<ellipse cx="159.10" cy="1870.43" rx="2.70" ry="1.35" transform="rotate(-60.5 159.10 1870.43)" fill="#f2f2f2"/>
<ellipse cx="156.14" cy="1867.70" rx="2.70" ry="1.35" transform="rotate(-124.0 156.14 1867.70)" fill="#f2f2f2"/>
<ellipse cx="159.60" cy="1868.06" rx="2.70" ry="1.35" transform="rotate(-44.0 159.60 1868.06)" fill="#f2f2f2"/>
<ellipse cx="157.51" cy="1864.53" rx="2.70" ry="1.35" transform="rotate(-108.4 157.51 1864.53)" fill="#f2f2f2"/>
<ellipse cx="160.74" cy="1865.81" rx="2.70" ry="1.35" transform="rotate(-28.4 160.74 1865.81)" fill="#f2f2f2"/>
<ellipse cx="159.64" cy="1861.58" rx="2.70" ry="1.35" transform="rotate(-95.4 159.64 1861.58)" fill="#f2f2f2"/>
<ellipse cx="162.50" cy="1863.55" rx="2.70" ry="1.35" transform="rotate(-15.4 162.50 1863.55)" fill="#f2f2f2"/>
<ellipse cx="162.47" cy="1858.76" rx="2.70" ry="1.35" transform="rotate(-85.5 162.47 1858.76)" fill="#f2f2f2"/>
<ellipse cx="164.94" cy="1861.19" rx="2.70" ry="1.35" transform="rotate(-5.5 164.94 1861.19)" fill="#f2f2f2"/>
<ellipse cx="167.84" cy="1856.86" rx="2.4" ry="1.4" transform="rotate(-36.1 167.84 1856.86)" fill="#f2f2f2"/>
<path d="M195.35,1886.30 Q217.35,1871.80 198.15,1857.80" fill="none" stroke="#f2f2f2" stroke-width="1.2"/>
<line x1="195.35" y1="1886.30" x2="194.15" y2="1887.30" stroke="#f2f2f2" stroke-width="1.1"/>
<ellipse cx="198.74" cy="1882.03" rx="2.30" ry="1.35" transform="rotate(-77.1 198.74 1882.03)" fill="#f2f2f2"/>
<ellipse cx="200.53" cy="1884.39" rx="2.30" ry="1.35" transform="rotate(2.9 200.53 1884.39)" fill="#f2f2f2"/>
<ellipse cx="201.93" cy="1878.70" rx="2.70" ry="1.35" transform="rotate(-83.9 201.93 1878.70)" fill="#f2f2f2"/>
<ellipse cx="204.33" cy="1881.20" rx="2.70" ry="1.35" transform="rotate(-3.9 204.33 1881.20)" fill="#f2f2f2"/>
<ellipse cx="204.09" cy="1875.81" rx="2.70" ry="1.35" transform="rotate(-92.9 204.09 1875.81)" fill="#f2f2f2"/>
<ellipse cx="206.86" cy="1877.91" rx="2.70" ry="1.35" transform="rotate(-12.9 206.86 1877.91)" fill="#f2f2f2"/>
<ellipse cx="205.30" cy="1873.03" rx="2.70" ry="1.35" transform="rotate(-104.7 205.30 1873.03)" fill="#f2f2f2"/>
<ellipse cx="208.44" cy="1874.51" rx="2.70" ry="1.35" transform="rotate(-24.7 208.44 1874.51)" fill="#f2f2f2"/>
<ellipse cx="205.60" cy="1870.43" rx="2.70" ry="1.35" transform="rotate(-119.5 205.60 1870.43)" fill="#f2f2f2"/>
<ellipse cx="209.01" cy="1871.06" rx="2.70" ry="1.35" transform="rotate(-39.5 209.01 1871.06)" fill="#f2f2f2"/>
<ellipse cx="205.10" cy="1868.06" rx="2.70" ry="1.35" transform="rotate(-136.0 205.10 1868.06)" fill="#f2f2f2"/>
<ellipse cx="208.56" cy="1867.70" rx="2.70" ry="1.35" transform="rotate(-56.0 208.56 1867.70)" fill="#f2f2f2"/>
<ellipse cx="203.96" cy="1865.81" rx="2.70" ry="1.35" transform="rotate(-151.6 203.96 1865.81)" fill="#f2f2f2"/>
<ellipse cx="207.19" cy="1864.53" rx="2.70" ry="1.35" transform="rotate(-71.6 207.19 1864.53)" fill="#f2f2f2"/>
<ellipse cx="202.20" cy="1863.55" rx="2.70" ry="1.35" transform="rotate(-164.6 202.20 1863.55)" fill="#f2f2f2"/>
<ellipse cx="205.06" cy="1861.58" rx="2.70" ry="1.35" transform="rotate(-84.6 205.06 1861.58)" fill="#f2f2f2"/>
<ellipse cx="199.76" cy="1861.19" rx="2.70" ry="1.35" transform="rotate(-174.5 199.76 1861.19)" fill="#f2f2f2"/>
<ellipse cx="202.23" cy="1858.76" rx="2.70" ry="1.35" transform="rotate(-94.5 202.23 1858.76)" fill="#f2f2f2"/>
<ellipse cx="196.86" cy="1856.86" rx="2.4" ry="1.4" transform="rotate(-143.9 196.86 1856.86)" fill="#f2f2f2"/>
<text x="183.5" y="1879.0" text-anchor="middle" font-size="23" stroke="#f2f2f2" stroke-width="0.7" fill="#f2f2f2">5</text>
<text x="503.3" y="1780.8" font-size="19.3" font-weight="bold" fill="#fff">De ce eu?</text>
<text x="504.8" y="1800.2" font-size="16" fill="#c4c4c4">Tudor Giurgiu</text>
<text x="504.8" y="1819.2" font-size="16" fill="#c4c4c4">2015, Dramă</text>
<line x1="504.3" y1="1831" x2="504.3" y2="2062.0" stroke="#8a8a8a" stroke-width="1"/>
<line x1="647.4" y1="1831" x2="647.4" y2="2062.0" stroke="#8a8a8a" stroke-width="1"/>
<text x="501.3" y="1838.0" font-size="9.5" text-anchor="end" fill="#8c8c8c">0.26m</text>
<text x="649.4" y="1838.0" font-size="9.5" fill="#8c8c8c">11.6m</text>
<text x="501.3" y="2060.0" font-size="9.5" text-anchor="end" fill="#8c8c8c">0.0m</text>
<polygon points="504.3,2002.1 647.4,1956.5 647.4,2045.8" fill="#c21f3c" stroke="rgba(255,255,255,0.4)" stroke-width="0.7" stroke-linejoin="bevel"/>
<circle cx="504.3" cy="2002.1" r="6" fill="#fff"/>
<text x="493.0" y="2005.7" font-size="16" font-weight="bold" text-anchor="end" letter-spacing="0.2" fill="#fff">65.507</text>
<text x="493.0" y="2024.3" font-size="15.8" text-anchor="end" letter-spacing="0.25" fill="#fff">spectatori</text>
<text x="655.7" y="1957.4" font-size="15.7" letter-spacing="0.5" fill="#fff">Buget:</text>
<text x="655.7" y="1976.1" font-size="15.9" font-weight="bold" letter-spacing="0.35" fill="#fff">5.3m RON</text>
<text x="655.7" y="2057.1" font-size="15.7" letter-spacing="0.4" fill="#fff">Încasări:</text>
<text x="655.7" y="2075.8" font-size="15.9" font-weight="bold" letter-spacing="0.35" fill="#fff">0.7m RON</text>
<text x="108.5" y="2116.2" font-size="19.3" font-weight="bold" fill="#fff">Octav</text>
<text x="108.8" y="2135.6" font-size="16" fill="#c4c4c4">Serge Ioan Celebidachi</text>
<text x="108.8" y="2154.6" font-size="16" fill="#c4c4c4">2007, Dramă</text>
<line x1="111.3" y1="2166.6" x2="111.3" y2="2397.6" stroke="#8a8a8a" stroke-width="1"/>
<line x1="253.4" y1="2166.6" x2="253.4" y2="2397.6" stroke="#8a8a8a" stroke-width="1"/>
<text x="108.3" y="2173.6" font-size="9.5" text-anchor="end" fill="#8c8c8c">0.26m</text>
<text x="255.4" y="2173.6" font-size="9.5" fill="#8c8c8c">11.6m</text>
<text x="108.3" y="2395.6" font-size="9.5" text-anchor="end" fill="#8c8c8c">0.0m</text>
<polygon points="111.3,2342.6 253.4,2252.3 253.4,2379.5" fill="#bc1a3b" stroke="rgba(255,255,255,0.4)" stroke-width="0.7" stroke-linejoin="bevel"/>
<circle cx="111.3" cy="2342.6" r="6" fill="#fff"/>
<text x="102.0" y="2346.7" font-size="16" font-weight="bold" text-anchor="end" letter-spacing="0.2" fill="#fff">58.945</text>
<text x="102.0" y="2365.3" font-size="15.8" text-anchor="end" letter-spacing="0.25" fill="#fff">spectatori</text>
<text x="263.9" y="2252.3" font-size="15.7" letter-spacing="0.5" fill="#fff">Buget:</text>
<text x="263.9" y="2271.0" font-size="15.9" font-weight="bold" letter-spacing="0.35" fill="#fff">7.3m RON</text>
<text x="263.9" y="2391.3" font-size="15.7" letter-spacing="0.4" fill="#fff">Încasări:</text>
<text x="263.9" y="2410.0" font-size="15.9" font-weight="bold" letter-spacing="0.35" fill="#fff">0.8m RON</text>
<text x="503.3" y="2116.2" font-size="19.3" font-weight="bold" fill="#fff">Bacalaureat</text>
<text x="504.8" y="2135.6" font-size="16" fill="#c4c4c4">Cristian Mungiu</text>
<text x="504.8" y="2154.6" font-size="16" fill="#c4c4c4">2016, Dramă</text>
<line x1="504.3" y1="2166.6" x2="504.3" y2="2397.6" stroke="#8a8a8a" stroke-width="1"/>
<line x1="647.4" y1="2166.6" x2="647.4" y2="2397.6" stroke="#8a8a8a" stroke-width="1"/>
<text x="501.3" y="2173.6" font-size="9.5" text-anchor="end" fill="#8c8c8c">0.26m</text>
<text x="649.4" y="2173.6" font-size="9.5" fill="#8c8c8c">11.6m</text>
<text x="501.3" y="2395.6" font-size="9.5" text-anchor="end" fill="#8c8c8c">0.0m</text>
<polygon points="504.3,2346.2 647.4,2237.8 647.4,2386.0" fill="#b41539" stroke="rgba(255,255,255,0.4)" stroke-width="0.7" stroke-linejoin="bevel"/>
<circle cx="504.3" cy="2346.2" r="6" fill="#fff"/>
<text x="493.0" y="2350.5" font-size="16" font-weight="bold" text-anchor="end" letter-spacing="0.2" fill="#fff">55.533</text>
<text x="493.0" y="2369.1" font-size="15.8" text-anchor="end" letter-spacing="0.25" fill="#fff">spectatori</text>
<text x="655.7" y="2238.1" font-size="15.7" letter-spacing="0.5" fill="#fff">Buget:</text>
<text x="655.7" y="2256.8" font-size="15.9" font-weight="bold" letter-spacing="0.35" fill="#fff">8.0m RON</text>
<text x="655.7" y="2392.0" font-size="15.7" letter-spacing="0.4" fill="#fff">Încasări:</text>
<text x="655.7" y="2410.7" font-size="15.9" font-weight="bold" letter-spacing="0.35" fill="#fff">0.6m RON</text>
<path d="M562.85,2223.50 Q540.85,2209.00 560.05,2195.00" fill="none" stroke="#f2f2f2" stroke-width="1.2"/>
<line x1="562.85" y1="2223.50" x2="564.05" y2="2224.50" stroke="#f2f2f2" stroke-width="1.1"/>
<ellipse cx="557.67" cy="2221.59" rx="2.30" ry="1.35" transform="rotate(-182.9 557.67 2221.59)" fill="#f2f2f2"/>
<ellipse cx="559.46" cy="2219.23" rx="2.30" ry="1.35" transform="rotate(-102.9 559.46 2219.23)" fill="#f2f2f2"/>
<ellipse cx="553.87" cy="2218.40" rx="2.70" ry="1.35" transform="rotate(-176.1 553.87 2218.40)" fill="#f2f2f2"/>
<ellipse cx="556.27" cy="2215.90" rx="2.70" ry="1.35" transform="rotate(-96.1 556.27 2215.90)" fill="#f2f2f2"/>
<ellipse cx="551.34" cy="2215.11" rx="2.70" ry="1.35" transform="rotate(-167.1 551.34 2215.11)" fill="#f2f2f2"/>
<ellipse cx="554.11" cy="2213.01" rx="2.70" ry="1.35" transform="rotate(-87.1 554.11 2213.01)" fill="#f2f2f2"/>
<ellipse cx="549.76" cy="2211.71" rx="2.70" ry="1.35" transform="rotate(-155.3 549.76 2211.71)" fill="#f2f2f2"/>
<ellipse cx="552.90" cy="2210.23" rx="2.70" ry="1.35" transform="rotate(-75.3 552.90 2210.23)" fill="#f2f2f2"/>
<ellipse cx="549.19" cy="2208.26" rx="2.70" ry="1.35" transform="rotate(-140.5 549.19 2208.26)" fill="#f2f2f2"/>
<ellipse cx="552.60" cy="2207.63" rx="2.70" ry="1.35" transform="rotate(-60.5 552.60 2207.63)" fill="#f2f2f2"/>
<ellipse cx="549.64" cy="2204.90" rx="2.70" ry="1.35" transform="rotate(-124.0 549.64 2204.90)" fill="#f2f2f2"/>
<ellipse cx="553.10" cy="2205.26" rx="2.70" ry="1.35" transform="rotate(-44.0 553.10 2205.26)" fill="#f2f2f2"/>
<ellipse cx="551.01" cy="2201.73" rx="2.70" ry="1.35" transform="rotate(-108.4 551.01 2201.73)" fill="#f2f2f2"/>
<ellipse cx="554.24" cy="2203.01" rx="2.70" ry="1.35" transform="rotate(-28.4 554.24 2203.01)" fill="#f2f2f2"/>
<ellipse cx="553.14" cy="2198.78" rx="2.70" ry="1.35" transform="rotate(-95.4 553.14 2198.78)" fill="#f2f2f2"/>
<ellipse cx="556.00" cy="2200.75" rx="2.70" ry="1.35" transform="rotate(-15.4 556.00 2200.75)" fill="#f2f2f2"/>
<ellipse cx="555.97" cy="2195.96" rx="2.70" ry="1.35" transform="rotate(-85.5 555.97 2195.96)" fill="#f2f2f2"/>
<ellipse cx="558.44" cy="2198.39" rx="2.70" ry="1.35" transform="rotate(-5.5 558.44 2198.39)" fill="#f2f2f2"/>
<ellipse cx="561.34" cy="2194.06" rx="2.4" ry="1.4" transform="rotate(-36.1 561.34 2194.06)" fill="#f2f2f2"/>
<path d="M588.85,2223.50 Q610.85,2209.00 591.65,2195.00" fill="none" stroke="#f2f2f2" stroke-width="1.2"/>
<line x1="588.85" y1="2223.50" x2="587.65" y2="2224.50" stroke="#f2f2f2" stroke-width="1.1"/>
<ellipse cx="592.24" cy="2219.23" rx="2.30" ry="1.35" transform="rotate(-77.1 592.24 2219.23)" fill="#f2f2f2"/>
<ellipse cx="594.03" cy="2221.59" rx="2.30" ry="1.35" transform="rotate(2.9 594.03 2221.59)" fill="#f2f2f2"/>
<ellipse cx="595.43" cy="2215.90" rx="2.70" ry="1.35" transform="rotate(-83.9 595.43 2215.90)" fill="#f2f2f2"/>
<ellipse cx="597.83" cy="2218.40" rx="2.70" ry="1.35" transform="rotate(-3.9 597.83 2218.40)" fill="#f2f2f2"/>
<ellipse cx="597.59" cy="2213.01" rx="2.70" ry="1.35" transform="rotate(-92.9 597.59 2213.01)" fill="#f2f2f2"/>
<ellipse cx="600.36" cy="2215.11" rx="2.70" ry="1.35" transform="rotate(-12.9 600.36 2215.11)" fill="#f2f2f2"/>
<ellipse cx="598.80" cy="2210.23" rx="2.70" ry="1.35" transform="rotate(-104.7 598.80 2210.23)" fill="#f2f2f2"/>
<ellipse cx="601.94" cy="2211.71" rx="2.70" ry="1.35" transform="rotate(-24.7 601.94 2211.71)" fill="#f2f2f2"/>
<ellipse cx="599.10" cy="2207.63" rx="2.70" ry="1.35" transform="rotate(-119.5 599.10 2207.63)" fill="#f2f2f2"/>
<ellipse cx="602.51" cy="2208.26" rx="2.70" ry="1.35" transform="rotate(-39.5 602.51 2208.26)" fill="#f2f2f2"/>
<ellipse cx="598.60" cy="2205.26" rx="2.70" ry="1.35" transform="rotate(-136.0 598.60 2205.26)" fill="#f2f2f2"/>
<ellipse cx="602.06" cy="2204.90" rx="2.70" ry="1.35" transform="rotate(-56.0 602.06 2204.90)" fill="#f2f2f2"/>
<ellipse cx="597.46" cy="2203.01" rx="2.70" ry="1.35" transform="rotate(-151.6 597.46 2203.01)" fill="#f2f2f2"/>
<ellipse cx="600.69" cy="2201.73" rx="2.70" ry="1.35" transform="rotate(-71.6 600.69 2201.73)" fill="#f2f2f2"/>
<ellipse cx="595.70" cy="2200.75" rx="2.70" ry="1.35" transform="rotate(-164.6 595.70 2200.75)" fill="#f2f2f2"/>
<ellipse cx="598.56" cy="2198.78" rx="2.70" ry="1.35" transform="rotate(-84.6 598.56 2198.78)" fill="#f2f2f2"/>
<ellipse cx="593.26" cy="2198.39" rx="2.70" ry="1.35" transform="rotate(-174.5 593.26 2198.39)" fill="#f2f2f2"/>
<ellipse cx="595.73" cy="2195.96" rx="2.70" ry="1.35" transform="rotate(-94.5 595.73 2195.96)" fill="#f2f2f2"/>
<ellipse cx="590.36" cy="2194.06" rx="2.4" ry="1.4" transform="rotate(-143.9 590.36 2194.06)" fill="#f2f2f2"/>
<text x="577.5" y="2216.2" text-anchor="middle" font-size="23" stroke="#f2f2f2" stroke-width="1.0" fill="#f2f2f2">1</text>
<rect x="571.9" y="2214.2" width="11.0" height="2.2" fill="#f2f2f2"/>
<text x="108.5" y="2451.3" font-size="19.3" font-weight="bold" fill="#fff">După dealuri</text>
<text x="108.8" y="2470.7" font-size="16" fill="#c4c4c4">Cristian Mungiu</text>
<text x="108.8" y="2489.7" font-size="16" fill="#c4c4c4">2012, Dramă</text>
<line x1="111.3" y1="2502.5" x2="111.3" y2="2733.5" stroke="#8a8a8a" stroke-width="1"/>
<line x1="253.4" y1="2502.5" x2="253.4" y2="2733.5" stroke="#8a8a8a" stroke-width="1"/>
<text x="108.3" y="2509.5" font-size="9.5" text-anchor="end" fill="#8c8c8c">0.26m</text>
<text x="255.4" y="2509.5" font-size="9.5" fill="#8c8c8c">11.6m</text>
<text x="108.3" y="2731.5" font-size="9.5" text-anchor="end" fill="#8c8c8c">0.0m</text>
<polygon points="111.3,2683.3 253.4,2573.8 253.4,2722.5" fill="#b41439" stroke="rgba(255,255,255,0.4)" stroke-width="0.7" stroke-linejoin="bevel"/>
<circle cx="111.3" cy="2683.3" r="6" fill="#fff"/>
<text x="102.0" y="2685.7" font-size="16" font-weight="bold" text-anchor="end" letter-spacing="0.2" fill="#fff">53.083</text>
<text x="102.0" y="2704.3" font-size="15.8" text-anchor="end" letter-spacing="0.25" fill="#fff">spectatori</text>
<text x="263.9" y="2573.8" font-size="15.7" letter-spacing="0.5" fill="#fff">Buget:</text>
<text x="263.9" y="2592.5" font-size="15.9" font-weight="bold" letter-spacing="0.35" fill="#fff">8.0m RON</text>
<text x="263.9" y="2731.5" font-size="15.7" letter-spacing="0.4" fill="#fff">Încasări:</text>
<text x="263.9" y="2750.2" font-size="15.9" font-weight="bold" letter-spacing="0.35" fill="#fff">0.5m RON</text>
<path d="M163.00,2554.30 Q141.00,2539.80 160.20,2525.80" fill="none" stroke="#f2f2f2" stroke-width="1.2"/>
<line x1="163.00" y1="2554.30" x2="164.20" y2="2555.30" stroke="#f2f2f2" stroke-width="1.1"/>
<ellipse cx="157.82" cy="2552.39" rx="2.30" ry="1.35" transform="rotate(-182.9 157.82 2552.39)" fill="#f2f2f2"/>
<ellipse cx="159.61" cy="2550.03" rx="2.30" ry="1.35" transform="rotate(-102.9 159.61 2550.03)" fill="#f2f2f2"/>
<ellipse cx="154.02" cy="2549.20" rx="2.70" ry="1.35" transform="rotate(-176.1 154.02 2549.20)" fill="#f2f2f2"/>
<ellipse cx="156.42" cy="2546.70" rx="2.70" ry="1.35" transform="rotate(-96.1 156.42 2546.70)" fill="#f2f2f2"/>
<ellipse cx="151.49" cy="2545.91" rx="2.70" ry="1.35" transform="rotate(-167.1 151.49 2545.91)" fill="#f2f2f2"/>
<ellipse cx="154.26" cy="2543.81" rx="2.70" ry="1.35" transform="rotate(-87.1 154.26 2543.81)" fill="#f2f2f2"/>
<ellipse cx="149.91" cy="2542.51" rx="2.70" ry="1.35" transform="rotate(-155.3 149.91 2542.51)" fill="#f2f2f2"/>
<ellipse cx="153.05" cy="2541.03" rx="2.70" ry="1.35" transform="rotate(-75.3 153.05 2541.03)" fill="#f2f2f2"/>
<ellipse cx="149.34" cy="2539.06" rx="2.70" ry="1.35" transform="rotate(-140.5 149.34 2539.06)" fill="#f2f2f2"/>
<ellipse cx="152.75" cy="2538.43" rx="2.70" ry="1.35" transform="rotate(-60.5 152.75 2538.43)" fill="#f2f2f2"/>
<ellipse cx="149.79" cy="2535.70" rx="2.70" ry="1.35" transform="rotate(-124.0 149.79 2535.70)" fill="#f2f2f2"/>
<ellipse cx="153.25" cy="2536.06" rx="2.70" ry="1.35" transform="rotate(-44.0 153.25 2536.06)" fill="#f2f2f2"/>
<ellipse cx="151.16" cy="2532.53" rx="2.70" ry="1.35" transform="rotate(-108.4 151.16 2532.53)" fill="#f2f2f2"/>
<ellipse cx="154.39" cy="2533.81" rx="2.70" ry="1.35" transform="rotate(-28.4 154.39 2533.81)" fill="#f2f2f2"/>
<ellipse cx="153.29" cy="2529.58" rx="2.70" ry="1.35" transform="rotate(-95.4 153.29 2529.58)" fill="#f2f2f2"/>
<ellipse cx="156.15" cy="2531.55" rx="2.70" ry="1.35" transform="rotate(-15.4 156.15 2531.55)" fill="#f2f2f2"/>
<ellipse cx="156.12" cy="2526.76" rx="2.70" ry="1.35" transform="rotate(-85.5 156.12 2526.76)" fill="#f2f2f2"/>
<ellipse cx="158.59" cy="2529.19" rx="2.70" ry="1.35" transform="rotate(-5.5 158.59 2529.19)" fill="#f2f2f2"/>
<ellipse cx="161.49" cy="2524.86" rx="2.4" ry="1.4" transform="rotate(-36.1 161.49 2524.86)" fill="#f2f2f2"/>
<path d="M189.00,2554.30 Q211.00,2539.80 191.80,2525.80" fill="none" stroke="#f2f2f2" stroke-width="1.2"/>
<line x1="189.00" y1="2554.30" x2="187.80" y2="2555.30" stroke="#f2f2f2" stroke-width="1.1"/>
<ellipse cx="192.39" cy="2550.03" rx="2.30" ry="1.35" transform="rotate(-77.1 192.39 2550.03)" fill="#f2f2f2"/>
<ellipse cx="194.18" cy="2552.39" rx="2.30" ry="1.35" transform="rotate(2.9 194.18 2552.39)" fill="#f2f2f2"/>
<ellipse cx="195.58" cy="2546.70" rx="2.70" ry="1.35" transform="rotate(-83.9 195.58 2546.70)" fill="#f2f2f2"/>
<ellipse cx="197.98" cy="2549.20" rx="2.70" ry="1.35" transform="rotate(-3.9 197.98 2549.20)" fill="#f2f2f2"/>
<ellipse cx="197.74" cy="2543.81" rx="2.70" ry="1.35" transform="rotate(-92.9 197.74 2543.81)" fill="#f2f2f2"/>
<ellipse cx="200.51" cy="2545.91" rx="2.70" ry="1.35" transform="rotate(-12.9 200.51 2545.91)" fill="#f2f2f2"/>
<ellipse cx="198.95" cy="2541.03" rx="2.70" ry="1.35" transform="rotate(-104.7 198.95 2541.03)" fill="#f2f2f2"/>
<ellipse cx="202.09" cy="2542.51" rx="2.70" ry="1.35" transform="rotate(-24.7 202.09 2542.51)" fill="#f2f2f2"/>
<ellipse cx="199.25" cy="2538.43" rx="2.70" ry="1.35" transform="rotate(-119.5 199.25 2538.43)" fill="#f2f2f2"/>
<ellipse cx="202.66" cy="2539.06" rx="2.70" ry="1.35" transform="rotate(-39.5 202.66 2539.06)" fill="#f2f2f2"/>
<ellipse cx="198.75" cy="2536.06" rx="2.70" ry="1.35" transform="rotate(-136.0 198.75 2536.06)" fill="#f2f2f2"/>
<ellipse cx="202.21" cy="2535.70" rx="2.70" ry="1.35" transform="rotate(-56.0 202.21 2535.70)" fill="#f2f2f2"/>
<ellipse cx="197.61" cy="2533.81" rx="2.70" ry="1.35" transform="rotate(-151.6 197.61 2533.81)" fill="#f2f2f2"/>
<ellipse cx="200.84" cy="2532.53" rx="2.70" ry="1.35" transform="rotate(-71.6 200.84 2532.53)" fill="#f2f2f2"/>
<ellipse cx="195.85" cy="2531.55" rx="2.70" ry="1.35" transform="rotate(-164.6 195.85 2531.55)" fill="#f2f2f2"/>
<ellipse cx="198.71" cy="2529.58" rx="2.70" ry="1.35" transform="rotate(-84.6 198.71 2529.58)" fill="#f2f2f2"/>
<ellipse cx="193.41" cy="2529.19" rx="2.70" ry="1.35" transform="rotate(-174.5 193.41 2529.19)" fill="#f2f2f2"/>
<ellipse cx="195.88" cy="2526.76" rx="2.70" ry="1.35" transform="rotate(-94.5 195.88 2526.76)" fill="#f2f2f2"/>
<ellipse cx="190.51" cy="2524.86" rx="2.4" ry="1.4" transform="rotate(-143.9 190.51 2524.86)" fill="#f2f2f2"/>
<text x="177.2" y="2547.0" text-anchor="middle" font-size="23" stroke="#f2f2f2" stroke-width="0.7" fill="#f2f2f2">3</text>
<text x="503.3" y="2451.3" font-size="15.1" font-weight="bold" fill="#fff">Eu când vreau să fluier, fluier</text>
<text x="504.8" y="2470.7" font-size="16" fill="#c4c4c4">Florin Serban</text>
<text x="504.8" y="2489.7" font-size="16" fill="#c4c4c4">2010, Dramă</text>
<line x1="504.3" y1="2502.5" x2="504.3" y2="2733.5" stroke="#8a8a8a" stroke-width="1"/>
<line x1="647.4" y1="2502.5" x2="647.4" y2="2733.5" stroke="#8a8a8a" stroke-width="1"/>
<text x="501.3" y="2509.5" font-size="9.5" text-anchor="end" fill="#8c8c8c">0.26m</text>
<text x="649.4" y="2509.5" font-size="9.5" fill="#8c8c8c">11.6m</text>
<text x="501.3" y="2731.5" font-size="9.5" text-anchor="end" fill="#8c8c8c">0.0m</text>
<polygon points="504.3,2683.3 647.4,2681.1 647.4,2716.8" fill="#ca253e" stroke="rgba(255,255,255,0.4)" stroke-width="0.7" stroke-linejoin="bevel"/>
<circle cx="504.3" cy="2683.3" r="6" fill="#fff"/>
<text x="493.0" y="2687.4" font-size="16" font-weight="bold" text-anchor="end" letter-spacing="0.2" fill="#fff">52.644</text>
<text x="493.0" y="2706.0" font-size="15.8" text-anchor="end" letter-spacing="0.25" fill="#fff">spectatori</text>
<text x="655.7" y="2667.4" font-size="15.7" letter-spacing="0.5" fill="#fff">Buget:</text>
<text x="655.7" y="2686.1" font-size="15.9" font-weight="bold" letter-spacing="0.35" fill="#fff">3.7m RON</text>
<text x="655.7" y="2716.8" font-size="15.7" letter-spacing="0.4" fill="#fff">Încasări:</text>
<text x="655.7" y="2735.5" font-size="15.9" font-weight="bold" letter-spacing="0.35" fill="#fff">0.7m RON</text>
<path d="M562.85,2555.90 Q540.85,2541.40 560.05,2527.40" fill="none" stroke="#f2f2f2" stroke-width="1.2"/>
<line x1="562.85" y1="2555.90" x2="564.05" y2="2556.90" stroke="#f2f2f2" stroke-width="1.1"/>
<ellipse cx="557.67" cy="2553.99" rx="2.30" ry="1.35" transform="rotate(-182.9 557.67 2553.99)" fill="#f2f2f2"/>
<ellipse cx="559.46" cy="2551.63" rx="2.30" ry="1.35" transform="rotate(-102.9 559.46 2551.63)" fill="#f2f2f2"/>
<ellipse cx="553.87" cy="2550.80" rx="2.70" ry="1.35" transform="rotate(-176.1 553.87 2550.80)" fill="#f2f2f2"/>
<ellipse cx="556.27" cy="2548.30" rx="2.70" ry="1.35" transform="rotate(-96.1 556.27 2548.30)" fill="#f2f2f2"/>
<ellipse cx="551.34" cy="2547.51" rx="2.70" ry="1.35" transform="rotate(-167.1 551.34 2547.51)" fill="#f2f2f2"/>
<ellipse cx="554.11" cy="2545.41" rx="2.70" ry="1.35" transform="rotate(-87.1 554.11 2545.41)" fill="#f2f2f2"/>
<ellipse cx="549.76" cy="2544.11" rx="2.70" ry="1.35" transform="rotate(-155.3 549.76 2544.11)" fill="#f2f2f2"/>
<ellipse cx="552.90" cy="2542.63" rx="2.70" ry="1.35" transform="rotate(-75.3 552.90 2542.63)" fill="#f2f2f2"/>
<ellipse cx="549.19" cy="2540.66" rx="2.70" ry="1.35" transform="rotate(-140.5 549.19 2540.66)" fill="#f2f2f2"/>
<ellipse cx="552.60" cy="2540.03" rx="2.70" ry="1.35" transform="rotate(-60.5 552.60 2540.03)" fill="#f2f2f2"/>
<ellipse cx="549.64" cy="2537.30" rx="2.70" ry="1.35" transform="rotate(-124.0 549.64 2537.30)" fill="#f2f2f2"/>
<ellipse cx="553.10" cy="2537.66" rx="2.70" ry="1.35" transform="rotate(-44.0 553.10 2537.66)" fill="#f2f2f2"/>
<ellipse cx="551.01" cy="2534.13" rx="2.70" ry="1.35" transform="rotate(-108.4 551.01 2534.13)" fill="#f2f2f2"/>
<ellipse cx="554.24" cy="2535.41" rx="2.70" ry="1.35" transform="rotate(-28.4 554.24 2535.41)" fill="#f2f2f2"/>
<ellipse cx="553.14" cy="2531.18" rx="2.70" ry="1.35" transform="rotate(-95.4 553.14 2531.18)" fill="#f2f2f2"/>
<ellipse cx="556.00" cy="2533.15" rx="2.70" ry="1.35" transform="rotate(-15.4 556.00 2533.15)" fill="#f2f2f2"/>
<ellipse cx="555.97" cy="2528.36" rx="2.70" ry="1.35" transform="rotate(-85.5 555.97 2528.36)" fill="#f2f2f2"/>
<ellipse cx="558.44" cy="2530.79" rx="2.70" ry="1.35" transform="rotate(-5.5 558.44 2530.79)" fill="#f2f2f2"/>
<ellipse cx="561.34" cy="2526.46" rx="2.4" ry="1.4" transform="rotate(-36.1 561.34 2526.46)" fill="#f2f2f2"/>
<path d="M588.85,2555.90 Q610.85,2541.40 591.65,2527.40" fill="none" stroke="#f2f2f2" stroke-width="1.2"/>
<line x1="588.85" y1="2555.90" x2="587.65" y2="2556.90" stroke="#f2f2f2" stroke-width="1.1"/>
<ellipse cx="592.24" cy="2551.63" rx="2.30" ry="1.35" transform="rotate(-77.1 592.24 2551.63)" fill="#f2f2f2"/>
<ellipse cx="594.03" cy="2553.99" rx="2.30" ry="1.35" transform="rotate(2.9 594.03 2553.99)" fill="#f2f2f2"/>
<ellipse cx="595.43" cy="2548.30" rx="2.70" ry="1.35" transform="rotate(-83.9 595.43 2548.30)" fill="#f2f2f2"/>
<ellipse cx="597.83" cy="2550.80" rx="2.70" ry="1.35" transform="rotate(-3.9 597.83 2550.80)" fill="#f2f2f2"/>
<ellipse cx="597.59" cy="2545.41" rx="2.70" ry="1.35" transform="rotate(-92.9 597.59 2545.41)" fill="#f2f2f2"/>
<ellipse cx="600.36" cy="2547.51" rx="2.70" ry="1.35" transform="rotate(-12.9 600.36 2547.51)" fill="#f2f2f2"/>
<ellipse cx="598.80" cy="2542.63" rx="2.70" ry="1.35" transform="rotate(-104.7 598.80 2542.63)" fill="#f2f2f2"/>
<ellipse cx="601.94" cy="2544.11" rx="2.70" ry="1.35" transform="rotate(-24.7 601.94 2544.11)" fill="#f2f2f2"/>
<ellipse cx="599.10" cy="2540.03" rx="2.70" ry="1.35" transform="rotate(-119.5 599.10 2540.03)" fill="#f2f2f2"/>
<ellipse cx="602.51" cy="2540.66" rx="2.70" ry="1.35" transform="rotate(-39.5 602.51 2540.66)" fill="#f2f2f2"/>
<ellipse cx="598.60" cy="2537.66" rx="2.70" ry="1.35" transform="rotate(-136.0 598.60 2537.66)" fill="#f2f2f2"/>
<ellipse cx="602.06" cy="2537.30" rx="2.70" ry="1.35" transform="rotate(-56.0 602.06 2537.30)" fill="#f2f2f2"/>
<ellipse cx="597.46" cy="2535.41" rx="2.70" ry="1.35" transform="rotate(-151.6 597.46 2535.41)" fill="#f2f2f2"/>
<ellipse cx="600.69" cy="2534.13" rx="2.70" ry="1.35" transform="rotate(-71.6 600.69 2534.13)" fill="#f2f2f2"/>
<ellipse cx="595.70" cy="2533.15" rx="2.70" ry="1.35" transform="rotate(-164.6 595.70 2533.15)" fill="#f2f2f2"/>
<ellipse cx="598.56" cy="2531.18" rx="2.70" ry="1.35" transform="rotate(-84.6 598.56 2531.18)" fill="#f2f2f2"/>
<ellipse cx="593.26" cy="2530.79" rx="2.70" ry="1.35" transform="rotate(-174.5 593.26 2530.79)" fill="#f2f2f2"/>
<ellipse cx="595.73" cy="2528.36" rx="2.70" ry="1.35" transform="rotate(-94.5 595.73 2528.36)" fill="#f2f2f2"/>
<ellipse cx="590.36" cy="2526.46" rx="2.4" ry="1.4" transform="rotate(-143.9 590.36 2526.46)" fill="#f2f2f2"/>
<text x="577.1" y="2548.6" text-anchor="middle" font-size="23" stroke="#f2f2f2" stroke-width="0.7" fill="#f2f2f2">2</text>
<text x="108.5" y="2788.5" font-size="19.3" font-weight="bold" fill="#fff">Occident</text>
<text x="108.8" y="2807.9" font-size="16" fill="#c4c4c4">Cristian Mungiu</text>
<text x="108.8" y="2826.9" font-size="16" fill="#c4c4c4">2002, Comedie</text>
<line x1="111.3" y1="2841.5" x2="111.3" y2="3072.5" stroke="#8a8a8a" stroke-width="1"/>
<line x1="253.4" y1="2841.5" x2="253.4" y2="3072.5" stroke="#8a8a8a" stroke-width="1"/>
<text x="108.3" y="2848.5" font-size="9.5" text-anchor="end" fill="#8c8c8c">0.26m</text>
<text x="255.4" y="2848.5" font-size="9.5" fill="#8c8c8c">11.6m</text>
<text x="108.3" y="3070.5" font-size="9.5" text-anchor="end" fill="#8c8c8c">0.0m</text>
<polygon points="111.3,3028.6 253.4,3043.5 253.4,3068.2" fill="#c0203d" stroke="rgba(255,255,255,0.4)" stroke-width="0.7" stroke-linejoin="bevel"/>
<circle cx="111.3" cy="3028.6" r="6" fill="#fff"/>
<text x="102.0" y="3032.6" font-size="16" font-weight="bold" text-anchor="end" letter-spacing="0.2" fill="#fff">47.004</text>
<text x="102.0" y="3051.2" font-size="15.8" text-anchor="end" letter-spacing="0.25" fill="#fff">spectatori</text>
<text x="263.9" y="3029.1" font-size="15.7" letter-spacing="0.5" fill="#fff">Buget:</text>
<text x="263.9" y="3047.8" font-size="15.9" font-weight="bold" letter-spacing="0.35" fill="#fff">1.4m RON</text>
<text x="263.9" y="3072.9" font-size="15.7" letter-spacing="0.4" fill="#fff">Încasări:</text>
<text x="263.9" y="3091.6" font-size="15.9" font-weight="bold" letter-spacing="0.35" fill="#fff">0.2m RON</text>
<text x="503.3" y="2788.5" font-size="19.3" font-weight="bold" fill="#fff">Sieranevada</text>
<text x="504.8" y="2807.9" font-size="16" fill="#c4c4c4">Cristi Puiu</text>
<text x="504.8" y="2826.9" font-size="16" fill="#c4c4c4">2016, Dramă</text>
<line x1="504.3" y1="2841.5" x2="504.3" y2="3072.5" stroke="#8a8a8a" stroke-width="1"/>
<line x1="647.4" y1="2841.5" x2="647.4" y2="3072.5" stroke="#8a8a8a" stroke-width="1"/>
<text x="501.3" y="2848.5" font-size="9.5" text-anchor="end" fill="#8c8c8c">0.26m</text>
<text x="649.4" y="2848.5" font-size="9.5" fill="#8c8c8c">11.6m</text>
<polygon points="504.3,3040.2 647.4,2948.5 647.4,3066.7" fill="#b1133a" stroke="rgba(255,255,255,0.4)" stroke-width="0.7" stroke-linejoin="bevel"/>
<circle cx="504.3" cy="3040.2" r="6" fill="#fff"/>
<text x="493.0" y="3042.9" font-size="16" font-weight="bold" text-anchor="end" letter-spacing="0.2" fill="#fff">35.153</text>
<text x="493.0" y="3061.5" font-size="15.8" text-anchor="end" letter-spacing="0.25" fill="#fff">spectatori</text>
<text x="655.7" y="2949.1" font-size="15.7" letter-spacing="0.5" fill="#fff">Buget:</text>
<text x="655.7" y="2967.8" font-size="15.9" font-weight="bold" letter-spacing="0.35" fill="#fff">6.2m RON</text>
<text x="655.7" y="3074.1" font-size="15.7" letter-spacing="0.4" fill="#fff">Încasări:</text>
<text x="655.7" y="3092.8" font-size="15.9" font-weight="bold" letter-spacing="0.35" fill="#fff">0.3m RON</text>
<text x="108.5" y="3130.4" font-size="19.3" font-weight="bold" fill="#fff">Câini</text>
<text x="108.8" y="3149.8" font-size="16" fill="#c4c4c4">Bogdan Mirica</text>
<text x="108.8" y="3168.8" font-size="16" fill="#c4c4c4">2016, Thriller</text>
<line x1="111.3" y1="3179.4" x2="111.3" y2="3410.4" stroke="#8a8a8a" stroke-width="1"/>
<line x1="253.4" y1="3179.4" x2="253.4" y2="3410.4" stroke="#8a8a8a" stroke-width="1"/>
<text x="108.3" y="3186.4" font-size="9.5" text-anchor="end" fill="#8c8c8c">0.26m</text>
<text x="255.4" y="3186.4" font-size="9.5" fill="#8c8c8c">11.6m</text>
<polygon points="111.3,3382.1 253.4,3329.2 253.4,3404.5" fill="#b6163a" stroke="rgba(255,255,255,0.4)" stroke-width="0.7" stroke-linejoin="bevel"/>
<circle cx="111.3" cy="3382.1" r="6" fill="#fff"/>
<text x="102.0" y="3380.5" font-size="16" font-weight="bold" text-anchor="end" letter-spacing="0.2" fill="#fff">30.131</text>
<text x="102.0" y="3399.1" font-size="15.8" text-anchor="end" letter-spacing="0.25" fill="#fff">spectatori</text>
<text x="263.9" y="3328.9" font-size="15.7" letter-spacing="0.5" fill="#fff">Buget:</text>
<text x="263.9" y="3347.6" font-size="15.9" font-weight="bold" letter-spacing="0.35" fill="#fff">4.1m RON</text>
<text x="263.9" y="3410.7" font-size="15.7" letter-spacing="0.4" fill="#fff">Încasări:</text>
<text x="263.9" y="3429.4" font-size="15.9" font-weight="bold" letter-spacing="0.35" fill="#fff">0.3m RON</text>
<path d="M169.35,3232.00 Q147.35,3217.50 166.55,3203.50" fill="none" stroke="#f2f2f2" stroke-width="1.2"/>
<line x1="169.35" y1="3232.00" x2="170.55" y2="3233.00" stroke="#f2f2f2" stroke-width="1.1"/>
<ellipse cx="164.17" cy="3230.09" rx="2.30" ry="1.35" transform="rotate(-182.9 164.17 3230.09)" fill="#f2f2f2"/>
<ellipse cx="165.96" cy="3227.73" rx="2.30" ry="1.35" transform="rotate(-102.9 165.96 3227.73)" fill="#f2f2f2"/>
<ellipse cx="160.37" cy="3226.90" rx="2.70" ry="1.35" transform="rotate(-176.1 160.37 3226.90)" fill="#f2f2f2"/>
<ellipse cx="162.77" cy="3224.40" rx="2.70" ry="1.35" transform="rotate(-96.1 162.77 3224.40)" fill="#f2f2f2"/>
<ellipse cx="157.84" cy="3223.61" rx="2.70" ry="1.35" transform="rotate(-167.1 157.84 3223.61)" fill="#f2f2f2"/>
<ellipse cx="160.61" cy="3221.51" rx="2.70" ry="1.35" transform="rotate(-87.1 160.61 3221.51)" fill="#f2f2f2"/>
<ellipse cx="156.26" cy="3220.21" rx="2.70" ry="1.35" transform="rotate(-155.3 156.26 3220.21)" fill="#f2f2f2"/>
<ellipse cx="159.40" cy="3218.73" rx="2.70" ry="1.35" transform="rotate(-75.3 159.40 3218.73)" fill="#f2f2f2"/>
<ellipse cx="155.69" cy="3216.76" rx="2.70" ry="1.35" transform="rotate(-140.5 155.69 3216.76)" fill="#f2f2f2"/>
<ellipse cx="159.10" cy="3216.13" rx="2.70" ry="1.35" transform="rotate(-60.5 159.10 3216.13)" fill="#f2f2f2"/>
<ellipse cx="156.14" cy="3213.40" rx="2.70" ry="1.35" transform="rotate(-124.0 156.14 3213.40)" fill="#f2f2f2"/>
<ellipse cx="159.60" cy="3213.76" rx="2.70" ry="1.35" transform="rotate(-44.0 159.60 3213.76)" fill="#f2f2f2"/>
<ellipse cx="157.51" cy="3210.23" rx="2.70" ry="1.35" transform="rotate(-108.4 157.51 3210.23)" fill="#f2f2f2"/>
<ellipse cx="160.74" cy="3211.51" rx="2.70" ry="1.35" transform="rotate(-28.4 160.74 3211.51)" fill="#f2f2f2"/>
<ellipse cx="159.64" cy="3207.28" rx="2.70" ry="1.35" transform="rotate(-95.4 159.64 3207.28)" fill="#f2f2f2"/>
<ellipse cx="162.50" cy="3209.25" rx="2.70" ry="1.35" transform="rotate(-15.4 162.50 3209.25)" fill="#f2f2f2"/>
<ellipse cx="162.47" cy="3204.46" rx="2.70" ry="1.35" transform="rotate(-85.5 162.47 3204.46)" fill="#f2f2f2"/>
<ellipse cx="164.94" cy="3206.89" rx="2.70" ry="1.35" transform="rotate(-5.5 164.94 3206.89)" fill="#f2f2f2"/>
<ellipse cx="167.84" cy="3202.56" rx="2.4" ry="1.4" transform="rotate(-36.1 167.84 3202.56)" fill="#f2f2f2"/>
<path d="M195.35,3232.00 Q217.35,3217.50 198.15,3203.50" fill="none" stroke="#f2f2f2" stroke-width="1.2"/>
<line x1="195.35" y1="3232.00" x2="194.15" y2="3233.00" stroke="#f2f2f2" stroke-width="1.1"/>
<ellipse cx="198.74" cy="3227.73" rx="2.30" ry="1.35" transform="rotate(-77.1 198.74 3227.73)" fill="#f2f2f2"/>
<ellipse cx="200.53" cy="3230.09" rx="2.30" ry="1.35" transform="rotate(2.9 200.53 3230.09)" fill="#f2f2f2"/>
<ellipse cx="201.93" cy="3224.40" rx="2.70" ry="1.35" transform="rotate(-83.9 201.93 3224.40)" fill="#f2f2f2"/>
<ellipse cx="204.33" cy="3226.90" rx="2.70" ry="1.35" transform="rotate(-3.9 204.33 3226.90)" fill="#f2f2f2"/>
<ellipse cx="204.09" cy="3221.51" rx="2.70" ry="1.35" transform="rotate(-92.9 204.09 3221.51)" fill="#f2f2f2"/>
<ellipse cx="206.86" cy="3223.61" rx="2.70" ry="1.35" transform="rotate(-12.9 206.86 3223.61)" fill="#f2f2f2"/>
<ellipse cx="205.30" cy="3218.73" rx="2.70" ry="1.35" transform="rotate(-104.7 205.30 3218.73)" fill="#f2f2f2"/>
<ellipse cx="208.44" cy="3220.21" rx="2.70" ry="1.35" transform="rotate(-24.7 208.44 3220.21)" fill="#f2f2f2"/>
<ellipse cx="205.60" cy="3216.13" rx="2.70" ry="1.35" transform="rotate(-119.5 205.60 3216.13)" fill="#f2f2f2"/>
<ellipse cx="209.01" cy="3216.76" rx="2.70" ry="1.35" transform="rotate(-39.5 209.01 3216.76)" fill="#f2f2f2"/>
<ellipse cx="205.10" cy="3213.76" rx="2.70" ry="1.35" transform="rotate(-136.0 205.10 3213.76)" fill="#f2f2f2"/>
<ellipse cx="208.56" cy="3213.40" rx="2.70" ry="1.35" transform="rotate(-56.0 208.56 3213.40)" fill="#f2f2f2"/>
<ellipse cx="203.96" cy="3211.51" rx="2.70" ry="1.35" transform="rotate(-151.6 203.96 3211.51)" fill="#f2f2f2"/>
<ellipse cx="207.19" cy="3210.23" rx="2.70" ry="1.35" transform="rotate(-71.6 207.19 3210.23)" fill="#f2f2f2"/>
<ellipse cx="202.20" cy="3209.25" rx="2.70" ry="1.35" transform="rotate(-164.6 202.20 3209.25)" fill="#f2f2f2"/>
<ellipse cx="205.06" cy="3207.28" rx="2.70" ry="1.35" transform="rotate(-84.6 205.06 3207.28)" fill="#f2f2f2"/>
<ellipse cx="199.76" cy="3206.89" rx="2.70" ry="1.35" transform="rotate(-174.5 199.76 3206.89)" fill="#f2f2f2"/>
<ellipse cx="202.23" cy="3204.46" rx="2.70" ry="1.35" transform="rotate(-94.5 202.23 3204.46)" fill="#f2f2f2"/>
<ellipse cx="196.86" cy="3202.56" rx="2.4" ry="1.4" transform="rotate(-143.9 196.86 3202.56)" fill="#f2f2f2"/>
<text x="183.9" y="3224.7" text-anchor="middle" font-size="23" stroke="#f2f2f2" stroke-width="1.0" fill="#f2f2f2">1</text>
<rect x="178.3" y="3222.7" width="11.0" height="2.2" fill="#f2f2f2"/>
<text x="503.3" y="3130.4" font-size="19.3" font-weight="bold" fill="#fff">Love Building</text>
<text x="504.8" y="3149.8" font-size="16" fill="#c4c4c4">Iulia Rugina</text>
<text x="504.8" y="3168.8" font-size="16" fill="#c4c4c4">2013, Comedie</text>
<line x1="504.3" y1="3179.4" x2="504.3" y2="3410.4" stroke="#8a8a8a" stroke-width="1"/>
<line x1="647.4" y1="3179.4" x2="647.4" y2="3410.4" stroke="#8a8a8a" stroke-width="1"/>
<text x="501.3" y="3186.4" font-size="9.5" text-anchor="end" fill="#8c8c8c">0.26m</text>
<text x="649.4" y="3186.4" font-size="9.5" fill="#8c8c8c">11.6m</text>
<polygon points="504.3,3384.3 647.4,3405.8 647.4,3401.6" fill="#4a7ab5" stroke="rgba(255,255,255,0.4)" stroke-width="0.7" stroke-linejoin="bevel"/>
<circle cx="504.3" cy="3384.3" r="6" fill="#fff"/>
<text x="493.0" y="3380.2" font-size="16" font-weight="bold" text-anchor="end" letter-spacing="0.2" fill="#fff">27.383</text>
<text x="493.0" y="3398.8" font-size="15.8" text-anchor="end" letter-spacing="0.25" fill="#fff">spectatori</text>
<text x="655.7" y="3418.9" font-size="15.7" letter-spacing="0.5" fill="#fff">Buget:</text>
<text x="655.7" y="3437.6" font-size="15.9" font-weight="bold" letter-spacing="0.35" fill="#fff">0.2m RON</text>
<text x="655.7" y="3380.2" font-size="15.7" letter-spacing="0.4" fill="#fff">Încasări:</text>
<text x="655.7" y="3398.9" font-size="15.9" font-weight="bold" letter-spacing="0.35" fill="#fff">0.4m RON</text>
<text x="108.5" y="3472.5" font-size="19.3" font-weight="bold" fill="#fff">Domnișoara Christina</text>
<text x="108.8" y="3491.9" font-size="16" fill="#c4c4c4">Alexandru Maftei</text>
<text x="108.8" y="3510.9" font-size="16" fill="#c4c4c4">2013, Dramă</text>
<line x1="111.3" y1="3523.5" x2="111.3" y2="3754.5" stroke="#8a8a8a" stroke-width="1"/>
<line x1="253.4" y1="3523.5" x2="253.4" y2="3754.5" stroke="#8a8a8a" stroke-width="1"/>
<text x="108.3" y="3530.5" font-size="9.5" text-anchor="end" fill="#8c8c8c">0.26m</text>
<text x="255.4" y="3530.5" font-size="9.5" fill="#8c8c8c">11.6m</text>
<polygon points="111.3,3728.7 253.4,3658.5 253.4,3749.5" fill="#b41439" stroke="rgba(255,255,255,0.4)" stroke-width="0.7" stroke-linejoin="bevel"/>
<circle cx="111.3" cy="3728.7" r="6" fill="#fff"/>
<text x="102.0" y="3725.4" font-size="16" font-weight="bold" text-anchor="end" letter-spacing="0.2" fill="#fff">27.152</text>
<text x="102.0" y="3744.0" font-size="15.8" text-anchor="end" letter-spacing="0.25" fill="#fff">spectatori</text>
<text x="263.9" y="3681.7" font-size="15.7" letter-spacing="0.5" fill="#fff">Buget:</text>
<text x="263.9" y="3700.4" font-size="15.9" font-weight="bold" letter-spacing="0.35" fill="#fff">4.8m RON</text>
<text x="263.9" y="3756.1" font-size="15.7" letter-spacing="0.4" fill="#fff">Încasări:</text>
<text x="263.9" y="3774.8" font-size="15.9" font-weight="bold" letter-spacing="0.35" fill="#fff">0.3m RON</text>
<text x="503.3" y="3472.5" font-size="19.3" font-weight="bold" fill="#fff">Hawaii</text>
<text x="504.8" y="3491.9" font-size="16" fill="#c4c4c4">Jesus del Cerro</text>
<text x="504.8" y="3510.9" font-size="16" fill="#c4c4c4">2017, Dramă</text>
<line x1="504.3" y1="3523.5" x2="504.3" y2="3754.5" stroke="#8a8a8a" stroke-width="1"/>
<line x1="647.4" y1="3523.5" x2="647.4" y2="3754.5" stroke="#8a8a8a" stroke-width="1"/>
<text x="501.3" y="3530.5" font-size="9.5" text-anchor="end" fill="#8c8c8c">0.26m</text>
<text x="649.4" y="3530.5" font-size="9.5" fill="#8c8c8c">11.6m</text>
<polygon points="504.3,3729.0 647.4,3694.2 647.4,3744.2" fill="#c6223e" stroke="rgba(255,255,255,0.4)" stroke-width="0.7" stroke-linejoin="bevel"/>
<circle cx="504.3" cy="3729.0" r="6" fill="#fff"/>
<text x="493.0" y="3725.7" font-size="16" font-weight="bold" text-anchor="end" letter-spacing="0.2" fill="#fff">26.180</text>
<text x="493.0" y="3744.3" font-size="15.8" text-anchor="end" letter-spacing="0.25" fill="#fff">spectatori</text>
<text x="655.7" y="3695.7" font-size="15.7" letter-spacing="0.5" fill="#fff">Buget:</text>
<text x="655.7" y="3714.4" font-size="15.9" font-weight="bold" letter-spacing="0.35" fill="#fff">3.1m RON</text>
<text x="655.7" y="3755.8" font-size="15.7" letter-spacing="0.4" fill="#fff">Încasări:</text>
<text x="655.7" y="3774.5" font-size="15.9" font-weight="bold" letter-spacing="0.35" fill="#fff">0.5m RON</text>
<text x="25" y="3823.6" font-size="12.2" letter-spacing="0.3" fill="#fff"><tspan font-weight="bold">Sursă date:</tspan> cinemagia.ro | imdb.com | wikipedia.com</text>
<rect x="25" y="3832" width="709.5" height="2" fill="#e8e8e8"/>
<text x="24.5" y="3858.6" font-size="20.2" font-weight="bold" fill="#fff" stroke="#fff" stroke-width="0.6" font-family="'DejaVu Serif', serif">Scena9</text>
<text x="660" y="3850.6" font-size="12" font-weight="bold" letter-spacing="1.6" fill="#fff">INTERRO</text>
<text x="684.2" y="3862.2" font-size="12" font-weight="bold" letter-spacing="1.0" fill="#fff">BANG</text>
<path d="M725,3847.2 C724.3,3841.6 736.3,3840.6 735.9,3847 C735.6,3851 732,3852.6 730.6,3853.2" fill="none" stroke="#fff" stroke-width="2.1" stroke-linecap="round"/>
<path d="M730.8,3846.5 L729.3,3857.6" fill="none" stroke="#fff" stroke-width="2.1" stroke-linecap="round"/>
<circle cx="728.9" cy="3860.6" r="1.3" fill="#fff"/>
</svg>
</body></html>
